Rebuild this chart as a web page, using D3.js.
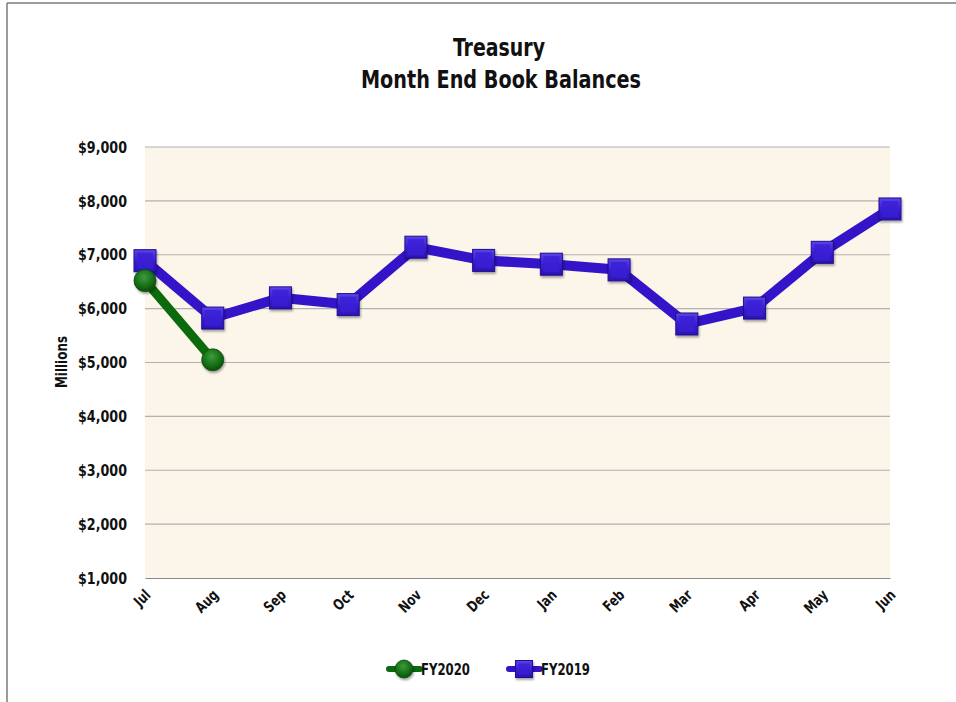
<!DOCTYPE html>
<html><head><meta charset="utf-8">
<script src="https://cdn.jsdelivr.net/npm/d3@7"></script>
<style>
html,body{margin:0;padding:0;background:#fff;}
svg text{font-family:"Liberation Sans Narrow","DejaVu Sans Condensed","Arial Narrow",sans-serif;font-weight:bold;fill:#111;}
</style></head>
<body>
<svg id="chart" width="956" height="702"></svg>
<script>
const months = ["Jul","Aug","Sep","Oct","Nov","Dec","Jan","Feb","Mar","Apr","May","Jun"];
const fy2019 = [6890, 5825, 6200, 6075, 7140, 6895, 6825, 6720, 5715, 6010, 7045, 7850];
const fy2020 = [6520, 5050];
const yTicks = [1000,2000,3000,4000,5000,6000,7000,8000,9000];
const titleLines = ["Treasury","Month End Book Balances"];

const svg = d3.select("#chart");
const W = 956, H = 702;
const m = {left:145, right:890, top:147, bottom:578};

// outer border (top & left)
svg.append("line").attr("x1",7).attr("y1",3).attr("x2",W).attr("y2",3).attr("stroke","#7a7a7a").attr("stroke-width",1.5);
svg.append("line").attr("x1",7).attr("y1",3).attr("x2",7).attr("y2",H).attr("stroke","#7a7a7a").attr("stroke-width",1.5);

const defs = svg.append("defs");
const sq = defs.append("linearGradient").attr("id","sqGrad").attr("x1",0).attr("y1",0).attr("x2",0).attr("y2",1);
sq.append("stop").attr("offset","0%").attr("stop-color","#5a44e6");
sq.append("stop").attr("offset","50%").attr("stop-color","#3a1fd4");
sq.append("stop").attr("offset","100%").attr("stop-color","#2a12b0");
const cg = defs.append("radialGradient").attr("id","cirGrad").attr("cx","45%").attr("cy","35%").attr("r","65%");
cg.append("stop").attr("offset","0%").attr("stop-color","#3f9a3f");
cg.append("stop").attr("offset","60%").attr("stop-color","#167216");
cg.append("stop").attr("offset","100%").attr("stop-color","#0a4f0a");
const flt = defs.append("filter").attr("id","shadow").attr("x","-30%").attr("y","-30%").attr("width","160%").attr("height","160%");
flt.append("feDropShadow").attr("dx",1).attr("dy",2).attr("stdDeviation",1.2).attr("flood-color","#000").attr("flood-opacity",0.35);

const x = d3.scalePoint().domain(months).range([m.left, m.right]);
const y = d3.scaleLinear().domain([1000,9000]).range([m.bottom, m.top]);

// plot background
svg.append("rect").attr("x",m.left).attr("y",m.top).attr("width",m.right-m.left).attr("height",m.bottom-m.top).attr("fill","#fbf5ea");

// gridlines
svg.append("g").selectAll("line").data(yTicks.slice(1)).join("line")
  .attr("x1",m.left).attr("x2",m.right).attr("y1",d=>y(d)).attr("y2",d=>y(d))
  .attr("stroke","#b4b2ae").attr("stroke-width",1.2);

// y axis
const yAxis = svg.append("g").attr("transform",`translate(${m.left},0)`)
  .call(d3.axisLeft(y).tickValues(yTicks).tickSize(0).tickPadding(18).tickFormat(d=>"$"+d3.format(",")(d)));
yAxis.select(".domain").remove();
yAxis.selectAll("text").attr("font-size",16).style("font-family",null)
  .attr("textLength",49).attr("lengthAdjust","spacingAndGlyphs");

// x axis
const xAxis = svg.append("g").attr("transform",`translate(0,${m.bottom})`)
  .call(d3.axisBottom(x).tickSize(0).tickPadding(0));
xAxis.select(".domain").attr("stroke","#8a8a8a").attr("stroke-width",1.2);
xAxis.selectAll("text").attr("font-size",15).style("font-family",null)
  .attr("text-anchor","end").attr("dy",null).attr("y",null)
  .attr("transform","translate(6,18) rotate(-45)")
  .each(function(){ const w=this.getComputedTextLength(); d3.select(this).attr("textLength",w*0.85).attr("lengthAdjust","spacingAndGlyphs"); });

// y title
svg.append("text").attr("transform","translate(67,362) rotate(-90)").attr("text-anchor","middle")
  .attr("font-size",15).attr("textLength",52).attr("lengthAdjust","spacingAndGlyphs").text("Millions");

// title
svg.append("text").attr("x",499).attr("y",56).attr("text-anchor","middle").attr("font-size",25)
  .attr("textLength",92).attr("lengthAdjust","spacingAndGlyphs").text(titleLines[0]);
svg.append("text").attr("x",501).attr("y",88).attr("text-anchor","middle").attr("font-size",25)
  .attr("textLength",280).attr("lengthAdjust","spacingAndGlyphs").text(titleLines[1]);

const line = d3.line().x((d,i)=>x(months[i])).y(d=>y(d));

// FY2019 line
svg.append("path").datum(fy2019).attr("d",line).attr("fill","none")
  .attr("stroke","#3314c8").attr("stroke-width",10).attr("stroke-linejoin","round");
// FY2020 line
svg.append("path").datum(fy2020).attr("d",line).attr("fill","none")
  .attr("stroke","#0b6a0b").attr("stroke-width",9).attr("stroke-linejoin","round");

const s = 22;
function square(g, cx, cy, size){
  g.append("rect").attr("x",cx-size/2).attr("y",cy-size/2).attr("width",size).attr("height",size)
    .attr("fill","url(#sqGrad)").attr("stroke","#22108f").attr("stroke-width",1).attr("filter","url(#shadow)");
  g.append("rect").attr("x",cx-size/2+3).attr("y",cy-size/2+3).attr("width",size-6).attr("height",size-6)
    .attr("fill","#3a1fd4").attr("opacity",0.8);
}
function circle(g, cx, cy, r){
  g.append("circle").attr("cx",cx).attr("cy",cy).attr("r",r)
    .attr("fill","url(#cirGrad)").attr("stroke","#0a4a0a").attr("stroke-width",0.8).attr("filter","url(#shadow)");
}
const gS = svg.append("g");
fy2019.forEach((v,i)=>square(gS, x(months[i]), y(v), s));
const gC = svg.append("g");
fy2020.forEach((v,i)=>circle(gC, x(months[i]), y(v), 11));

// legend
const lg = svg.append("g");
lg.append("line").attr("x1",389).attr("x2",420).attr("y1",669).attr("y2",669).attr("stroke","#0b6a0b").attr("stroke-width",6).attr("stroke-linecap","round");
circle(lg, 404, 669, 9);
lg.append("text").attr("x",421).attr("y",675).attr("font-size",16).attr("textLength",49).attr("lengthAdjust","spacingAndGlyphs").text("FY2020");
lg.append("line").attr("x1",509).attr("x2",540).attr("y1",669).attr("y2",669).attr("stroke","#3314c8").attr("stroke-width",6).attr("stroke-linecap","round");
square(lg, 524, 669, 17);
lg.append("text").attr("x",541).attr("y",675).attr("font-size",16).attr("textLength",49).attr("lengthAdjust","spacingAndGlyphs").text("FY2019");
</script>
</body></html>
